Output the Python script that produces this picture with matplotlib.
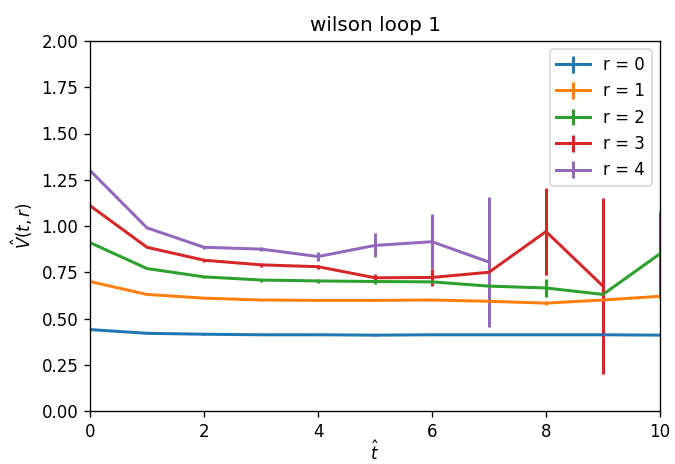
import numpy as np
import matplotlib
matplotlib.use("Agg")
import matplotlib.pyplot as plt

t0 = [0, 1, 2, 3, 4, 5, 6, 7, 8, 9, 10]
v0 = [0.44, 0.42, 0.415, 0.412, 0.412, 0.41, 0.412, 0.412, 0.412, 0.412, 0.41]
e0 = [0.003, 0.003, 0.003, 0.003, 0.003, 0.003, 0.003, 0.003, 0.003, 0.003, 0.003]

t1 = [0, 1, 2, 3, 4, 5, 6, 7, 8, 9, 10]
v1 = [0.70, 0.63, 0.61, 0.60, 0.598, 0.598, 0.60, 0.593, 0.583, 0.60, 0.62]
e1 = [0.003, 0.003, 0.004, 0.004, 0.005, 0.006, 0.007, 0.008, 0.01, 0.01, 0.012]

t2 = [0, 1, 2, 3, 4, 5, 6, 7, 8, 9, 10]
v2 = [0.91, 0.77, 0.725, 0.708, 0.703, 0.70, 0.698, 0.675, 0.665, 0.63, 0.85]
e2 = [0.004, 0.005, 0.006, 0.008, 0.01, 0.012, 0.015, 0.02, 0.05, 0.02, 0.23]

t3 = [0, 1, 2, 3, 4, 5, 6, 7, 8, 9]
v3 = [1.11, 0.885, 0.815, 0.79, 0.78, 0.72, 0.722, 0.75, 0.97, 0.675]
e3 = [0.005, 0.006, 0.008, 0.01, 0.01, 0.02, 0.045, 0.02, 0.235, 0.475]

t4 = [0, 1, 2, 3, 4, 5, 6, 7]
v4 = [1.30, 0.99, 0.885, 0.875, 0.835, 0.895, 0.915, 0.805]
e4 = [0.005, 0.006, 0.008, 0.012, 0.025, 0.065, 0.15, 0.35]

series = [(t0, v0, e0, "r = 0"), (t1, v1, e1, "r = 1"), (t2, v2, e2, "r = 2"),
          (t3, v3, e3, "r = 3"), (t4, v4, e4, "r = 4")]

DPI = 120
fig = plt.figure(figsize=(675 / DPI, 464 / DPI), dpi=DPI)
ax = fig.add_axes([90 / 675, 1 - 411 / 464, 570 / 675, 370 / 464])
for t, v, e, lab in series:
    ax.errorbar(t, v, yerr=e, label=lab, lw=1.8, elinewidth=1.8)
ax.set_xlim(0, 10)
ax.set_ylim(0, 2)
ax.set_title("wilson loop 1")
ax.set_xlabel(r"$\hat{t}$", labelpad=0)
ax.set_ylabel(r"$\hat{V}(t, r)$")
ax.legend(loc="upper right")
fig.savefig("out.png", dpi=DPI)
